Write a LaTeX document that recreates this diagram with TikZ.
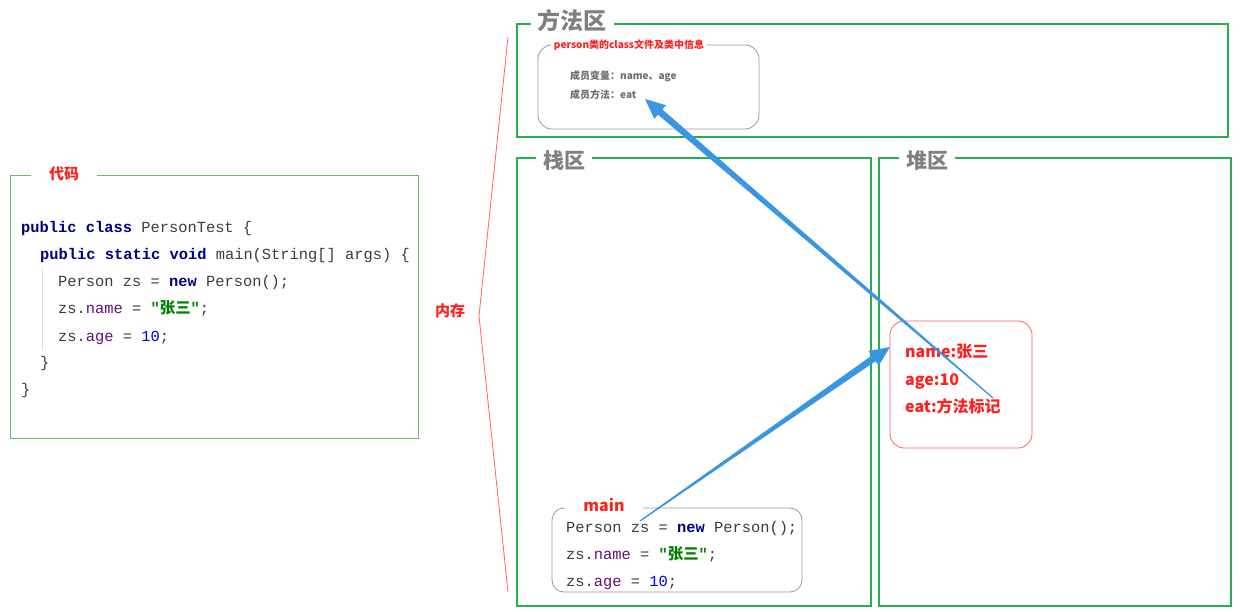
\documentclass[tikz,border=0pt]{standalone}
\usepackage{fontspec}
\usepackage{xcolor}
\usepackage{tikz}
\usetikzlibrary{calc}

\newfontfamily\cjk{Noto Sans CJK SC}
\newfontfamily\codefont{Liberation Mono}

\definecolor{zonegreen}{RGB}{34,177,76}
\definecolor{codegreen}{RGB}{112,182,112}
\definecolor{titlegray}{RGB}{128,128,128}
\definecolor{infogray}{RGB}{110,110,110}
\definecolor{memred}{RGB}{255,32,32}
\definecolor{arrowblue}{RGB}{58,150,224}
\definecolor{kwnavy}{RGB}{0,0,128}
\definecolor{fieldpurple}{RGB}{102,14,122}
\definecolor{strgreen}{RGB}{0,128,0}
\definecolor{numblue}{RGB}{0,0,255}
\definecolor{plaingray}{RGB}{60,60,60}

\newcommand{\kw}[1]{\textcolor{kwnavy}{\bfseries #1}}
\newcommand{\fld}[1]{\textcolor{fieldpurple}{#1}}
\newcommand{\strlit}[1]{\textcolor{strgreen}{\bfseries "{\cjk #1}"}}
\newcommand{\numlit}[1]{\textcolor{numblue}{#1}}
% tapered arrow: thin at #1, head at #2
\newcommand{\taperarrow}[2]{
    \coordinate (hb) at ($(#2)!20pt!(#1)$);
    \fill[arrowblue] ($(#1)!0.6pt!90:(#2)$) -- ($(hb)!3.4pt!90:(#2)$) -- ($(hb)!9pt!90:(#2)$) -- (#2)
        -- ($(hb)!9pt!-90:(#2)$) -- ($(hb)!3.4pt!-90:(#2)$) -- ($(#1)!0.6pt!-90:(#2)$) -- cycle;
}

\tikzset{
    zone/.style={draw=zonegreen, line width=2.5pt},
    zonetitle/.style={fill=white, text=titlegray, inner xsep=7pt, inner ysep=0pt,
        font=\cjk\bfseries\fontsize{21}{25}\selectfont},
    boxtitle/.style={fill=white, text=memred, inner ysep=0pt,
        font=\cjk\bfseries\fontsize{16}{19}\selectfont},
    codeline/.style={anchor=base west, inner sep=0pt, text=plaingray,
        font=\codefont\fontsize{15.4}{18}\selectfont},
    infoline/.style={anchor=base west, inner sep=0pt, text=infogray,
        font=\cjk\bfseries\fontsize{10}{12}\selectfont},
    fieldline/.style={anchor=base west, inner sep=0pt, text=memred,
        font=\cjk\bfseries\fontsize{16}{19}\selectfont},
}

\begin{document}
\begin{tikzpicture}[x=1pt,y=-1pt]
    \useasboundingbox (0,0) rectangle (1240,612);

    % source code
    \draw[codegreen, line width=1pt] (10,176) rectangle (418,438);
    \node[boxtitle, font=\cjk\bfseries\fontsize{15}{18}\selectfont, inner xsep=18pt] (codetitle) at (64,174) {代码};
    \draw[black!12, line width=0.8pt] (42,268) -- (42,350);
    \node[codeline] (c1) at (21,233) {\kw{public class} PersonTest \{};
    \node[codeline] (c2) at (40,260) {\kw{public static void} main(String[] args) \{};
    \node[codeline] (c3) at (58,287) {Person zs = \kw{new} Person();};
    \node[codeline] (c4) at (58,314) {zs.\fld{name} = \strlit{张三};};
    \node[codeline] (c5) at (58,342) {zs.\fld{age} = \numlit{10};};
    \node[codeline] (c6) at (40,367) {\}};
    \node[codeline] (c7) at (21,394) {\}};

    % memory
    \node[text=memred, font=\cjk\bfseries\fontsize{15}{18}\selectfont] (mem) at (450,311) {内存};
    \draw[memred!70, line width=0.8pt] (508,37) -- (479,316) -- (508,592);

    % method area
    \draw[zone] (517,24) rectangle (1228,137);
    \node[zonetitle, font=\cjk\bfseries\fontsize{23}{27}\selectfont] (methodtitle) at (572,21) {方法区};
    \draw[black!40, line width=0.8pt, rounded corners=14pt] (538,45) rectangle (759,129);
    \node[boxtitle, font=\cjk\bfseries\fontsize{10}{12}\selectfont, inner xsep=3pt] (classtitle) at (629,45) {person类的class文件及类中信息};
    \node[infoline] (members) at (570,80) {成员变量：name、age};
    \node[infoline] (methods) at (570,99) {成员方法：eat};

    % stack
    \draw[zone] (517,158) rectangle (871,606);
    \node[zonetitle] (stacktitle) at (564,161) {栈区};
    \draw[black!40, line width=0.8pt, rounded corners=12pt] (552,508) rectangle (802,592);
    \node[boxtitle, inner xsep=18pt] (maintitle) at (604,505) {main};
    \node[codeline] (m1) at (566,532) {Person zs = \kw{new} Person();};
    \node[codeline] (m2) at (566,559) {zs.\fld{name} = \strlit{张三};};
    \node[codeline] (m3) at (566,586) {zs.\fld{age} = \numlit{10};};

    % heap
    \draw[zone] (879,158) rectangle (1231,606);
    \node[zonetitle] (heaptitle) at (927,161) {堆区};
    \draw[memred!70, line width=0.8pt, rounded corners=14pt] (890,321) rectangle (1032,448);
    \node[fieldline] (fname) at (905,358) {name:张三};
    \node[fieldline] (fage) at (905,385) {age:10};
    \node[fieldline] (feat) at (905,412) {eat:方法标记};

    % references
    \coordinate (zsref) at (640,521);
    \coordinate (objin) at (890,347);
    \coordinate (eatmark) at (993,398);
    \coordinate (eatdef) at (645,99);
    \taperarrow{zsref}{objin}
    \taperarrow{eatmark}{eatdef}
\end{tikzpicture}
\end{document}
